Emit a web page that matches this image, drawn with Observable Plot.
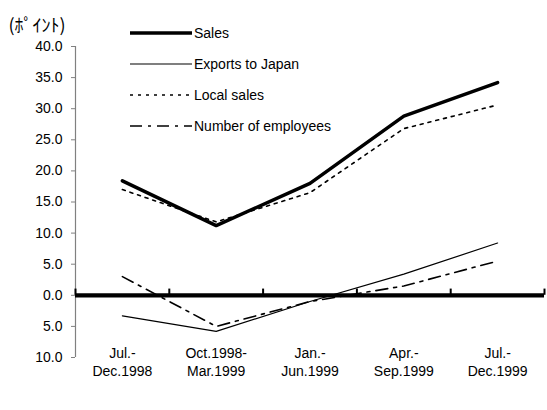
<!DOCTYPE html>
<html>
<head>
<meta charset="utf-8">
<script src="https://cdn.jsdelivr.net/npm/d3@7"></script>
<script src="https://cdn.jsdelivr.net/npm/@observablehq/plot@0.6"></script>
<style>
  body { margin: 0; background: #fff; }
  #chart svg { display: block; font-family: "Liberation Sans", Arial, sans-serif; }
</style>
</head>
<body>
<div id="chart"></div>
<script>
const periodsTop = ["Jul.-", "Oct.1998-", "Jan.-", "Apr.-", "Jul.-"];
const periodsBottom = ["Dec.1998", "Mar.1999", "Jun.1999", "Sep.1999", "Dec.1999"];
const sales = [18.4, 11.2, 18.0, 28.8, 34.2];
const exportsToJapan = [-3.3, -5.8, -1.0, 3.4, 8.4];
const localSales = [17.0, 11.8, 16.5, 26.8, 30.6];
const employees = [3.0, -5.0, -1.0, 1.5, 5.5];
const yTicks = [-10, -5, 0, 5, 10, 15, 20, 25, 30, 35, 40];
const unitLabel = "(ﾎﾟｲﾝﾄ)";

const seriesDefs = [
  {name: "Sales", values: sales, width: 3.5, dash: null},
  {name: "Exports to Japan", values: exportsToJapan, width: 1.2, dash: null},
  {name: "Local sales", values: localSales, width: 1.6, dash: "3,5"},
  {name: "Number of employees", values: employees, width: 1.6, dash: "12,6,3,6"}
];

const rows = [];
seriesDefs.forEach(s => s.values.forEach((v, i) => rows.push({series: s.name, i: i + 0.5, v})));
const cats = periodsTop.map((t, i) => ({i: i + 0.5, top: t, bottom: periodsBottom[i]}));
const boundaries = d3.range(periodsTop.length + 1);

const lineMarks = seriesDefs.map(s =>
  Plot.line(rows.filter(r => r.series === s.name), {
    x: "i", y: "v", stroke: "black", strokeWidth: s.width,
    strokeDasharray: s.dash, strokeLinejoin: "miter"
  })
);

const chart = Plot.plot({
  width: 547,
  height: 410,
  marginLeft: 75,
  marginRight: 3,
  marginTop: 46,
  marginBottom: 53,
  x: {type: "linear", domain: [0, periodsTop.length], axis: null},
  y: {domain: [-10, 40], ticks: yTicks},
  marks: [
    Plot.ruleX([0], {y1: -10, y2: 40, stroke: "#808080", strokeWidth: 1.2}),
    Plot.axisY({ticks: yTicks, tickSize: 4, tickPadding: 9, stroke: "#808080",
      tickFormat: d => Math.abs(d).toFixed(1), fontSize: 14, fill: "black", label: null}),
    ...lineMarks,
    Plot.ruleY([0], {x1: 0, x2: periodsTop.length, stroke: "black", strokeWidth: 4.2}),
    Plot.ruleX(boundaries, {y1: 0, y2: 1, stroke: "black", strokeWidth: 2}),
    Plot.text(cats, {x: "i", y: -10, text: "top", dy: -4, fontSize: 14, fill: "black"}),
    Plot.text(cats, {x: "i", y: -10, text: "bottom", dy: 14, fontSize: 14, fill: "black"}),
    Plot.text([unitLabel], {frameAnchor: "top-left", dx: -67, dy: -27, textAnchor: "start",
      fontSize: 18, fill: "black", fontFamily: "Noto Sans CJK JP", letterSpacing: 3})
  ]
});

// legend inside the frame
const svg = d3.select(chart);
const lg = svg.append("g").attr("font-size", 14).attr("fill", "black").attr("text-anchor", "start");
seriesDefs.forEach((s, k) => {
  const yy = 33 + k * 31;
  lg.append("line").attr("x1", 130).attr("x2", 192).attr("y1", yy).attr("y2", yy)
    .attr("stroke", "black").attr("stroke-width", s.width)
    .attr("stroke-dasharray", s.dash);
  lg.append("text").attr("x", 194).attr("y", yy).attr("dy", "0.35em").text(s.name);
});

document.getElementById("chart").appendChild(chart);
</script>
</body>
</html>
